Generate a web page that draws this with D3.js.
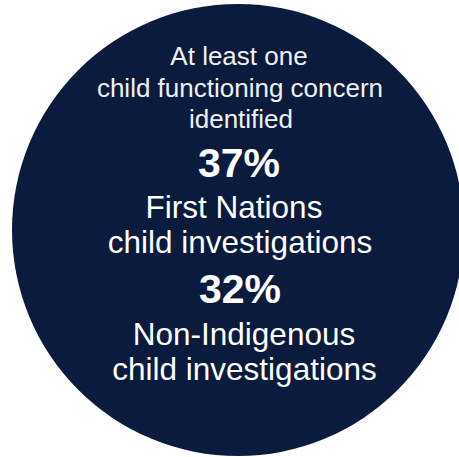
<!DOCTYPE html>
<html>
<head>
<meta charset="utf-8">
<script src="https://cdn.jsdelivr.net/npm/d3@7"></script>
<style>
  html, body { margin: 0; padding: 0; background: #ffffff; }
  svg { display: block; }
</style>
</head>
<body>
<script>
// Data
const headingLines = ["At least one", "child functioning concern", "identified"];
const groups = ["First Nations", "Non-Indigenous"];
const groupSuffix = ["child investigations", "child investigations"];
const percentages = [37, 32];

const W = 459, H = 457;
const svg = d3.select("body").append("svg")
  .attr("width", W).attr("height", H);

const cx = 238, cy = 230, r = 226;
svg.append("circle")
  .attr("cx", cx).attr("cy", cy).attr("r", r)
  .attr("fill", "#0b1b3e");

const fmt = d => d3.format("d")(d) + "%";
const font = "'Liberation Sans', Arial, Helvetica, sans-serif";

// heading
const headY = [65, 97, 128];
const headX = [239, 240, 241];
svg.selectAll("text.head").data(headingLines).join("text")
  .attr("class", "head")
  .attr("x", (d, i) => headX[i])
  .attr("y", (d, i) => headY[i])
  .attr("text-anchor", "middle")
  .attr("font-family", font)
  .attr("font-size", 26)
  .attr("font-weight", 300)
  .attr("fill", "#eef0f4")
  .text(d => d);

// percentages
const pctY = [177, 303];
const pctX = [239, 240];
svg.selectAll("text.pct").data(percentages).join("text")
  .attr("class", "pct")
  .attr("x", (d, i) => pctX[i])
  .attr("y", (d, i) => pctY[i])
  .attr("text-anchor", "middle")
  .attr("font-family", font)
  .attr("font-size", 41)
  .attr("font-weight", "bold")
  .attr("fill", "#ffffff")
  .text(fmt);

// group labels
const grpY = [218, 345];
const grpX = [234, 244];
svg.selectAll("text.grp").data(groups).join("text")
  .attr("class", "grp")
  .attr("x", (d, i) => grpX[i])
  .attr("y", (d, i) => grpY[i])
  .attr("text-anchor", "middle")
  .attr("font-family", font)
  .attr("font-size", 31.5)
  .attr("fill", "#ffffff")
  .text(d => d);

const sufY = [253, 380];
const sufX = [240, 244.5];
svg.selectAll("text.suf").data(groupSuffix).join("text")
  .attr("class", "suf")
  .attr("x", (d, i) => sufX[i])
  .attr("y", (d, i) => sufY[i])
  .attr("text-anchor", "middle")
  .attr("font-family", font)
  .attr("font-size", 31.5)
  .attr("fill", "#ffffff")
  .text(d => d);
</script>
</body>
</html>
